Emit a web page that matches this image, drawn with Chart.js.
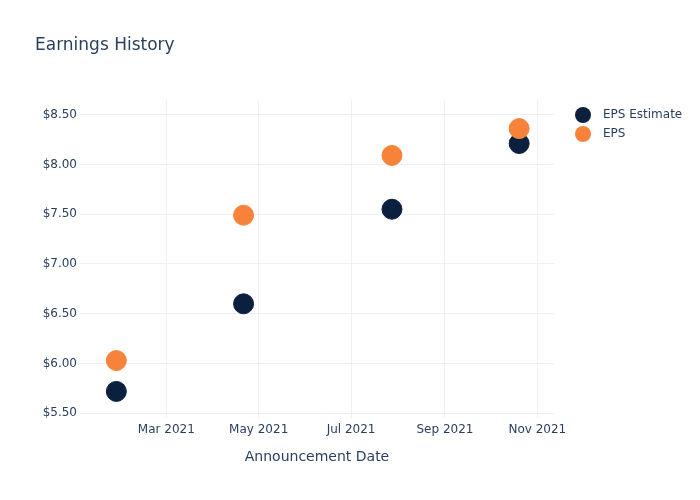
<!DOCTYPE html>
<html>
<head>
<meta charset="utf-8">
<script src="https://cdn.jsdelivr.net/npm/chart.js@4/dist/chart.umd.min.js"></script>
<style>
    html, body { margin: 0; padding: 0; background: #fff; }
    #wrap { width: 700px; height: 500px; }
</style>
</head>
<body>
<div id="wrap"><canvas id="chart" width="700" height="500"></canvas></div>
<script>
// announcement dates and values
const dates = ['2021-01-27', '2021-04-21', '2021-07-28', '2021-10-20'];
const epsEstimate = [5.72, 6.60, 7.55, 8.21];
const eps = [6.03, 7.49, 8.09, 8.36];

const xTickDates = ['2021-03-01', '2021-05-01', '2021-07-01', '2021-09-01', '2021-11-01'];
const xTickLabels = ['Mar 2021', 'May 2021', 'Jul 2021', 'Sep 2021', 'Nov 2021'];
const yTicks = [5.5, 6.0, 6.5, 7.0, 7.5, 8.0, 8.5];

const textColor = '#2a3f5f';
const gridColor = '#ebf0f8';
const font = 'DejaVu Sans';

function toPoints(values) {
    return dates.map((d, i) => ({ x: Date.parse(d), y: values[i] }));
}

// legend drawn by hand on the right, like the reference
const sideLegend = {
    id: 'sideLegend',
    afterDraw(chart) {
        const ctx = chart.ctx;
        const items = [chart.data.datasets[0], chart.data.datasets[1]];
        ctx.save();
        ctx.font = '12px "' + font + '"';
        ctx.textBaseline = 'middle';
        items.forEach((ds, i) => {
            const y = 115 + i * 19;
            ctx.beginPath();
            ctx.arc(583, y, 8, 0, Math.PI * 2);
            ctx.fillStyle = ds.backgroundColor;
            ctx.fill();
            ctx.fillStyle = textColor;
            ctx.fillText(ds.label, 603, y);
        });
        ctx.restore();
    }
};

new Chart(document.getElementById('chart').getContext('2d'), {
    type: 'scatter',
    data: {
        datasets: [
            {
                label: 'EPS Estimate',
                data: toPoints(epsEstimate),
                backgroundColor: '#0b1f3f',
                borderColor: '#0b1f3f',
                pointRadius: 10,
                pointHoverRadius: 10,
                order: 1
            },
            {
                label: 'EPS',
                data: toPoints(eps),
                backgroundColor: '#f7833a',
                borderColor: '#f7833a',
                pointRadius: 10,
                pointHoverRadius: 10,
                order: 0
            }
        ]
    },
    options: {
        responsive: false,
        animation: false,
        layout: { padding: { left: 35, right: 146, top: 0, bottom: 0 } },
        plugins: {
            legend: { display: false },
            tooltip: { enabled: false },
            title: {
                display: true,
                text: 'Earnings History',
                align: 'start',
                color: textColor,
                font: { family: font, size: 17, weight: 'normal' },
                padding: { top: 35, bottom: 45 }
            }
        },
        scales: {
            x: {
                type: 'linear',
                min: Date.parse('2021-01-03'),
                max: Date.parse('2021-11-12'),
                afterBuildTicks: scale => {
                    scale.ticks = xTickDates.map(d => ({ value: Date.parse(d) }));
                },
                afterFit: scale => { scale.height = 82; },
                grid: { color: gridColor, drawTicks: false },
                border: { display: false },
                ticks: {
                    padding: 5,
                    color: textColor,
                    font: { family: font, size: 12 },
                    maxRotation: 0,
                    callback: function(value) {
                        const i = xTickDates.findIndex(d => Date.parse(d) === value);
                        return i >= 0 ? xTickLabels[i] : '';
                    }
                },
                title: {
                    display: true,
                    text: 'Announcement Date',
                    color: textColor,
                    font: { family: font, size: 14 },
                    padding: { top: 0, bottom: 34 }
                }
            },
            y: {
                min: 5.453,
                max: 8.643,
                afterBuildTicks: scale => {
                    scale.ticks = yTicks.map(v => ({ value: v }));
                },
                afterFit: scale => { scale.width = 45; },
                grid: { color: gridColor, drawTicks: false },
                border: { display: false },
                ticks: {
                    padding: 3,
                    color: textColor,
                    font: { family: font, size: 12 },
                    callback: value => '$' + value.toFixed(2)
                }
            }
        }
    },
    plugins: [sideLegend]
});
</script>
</body>
</html>
